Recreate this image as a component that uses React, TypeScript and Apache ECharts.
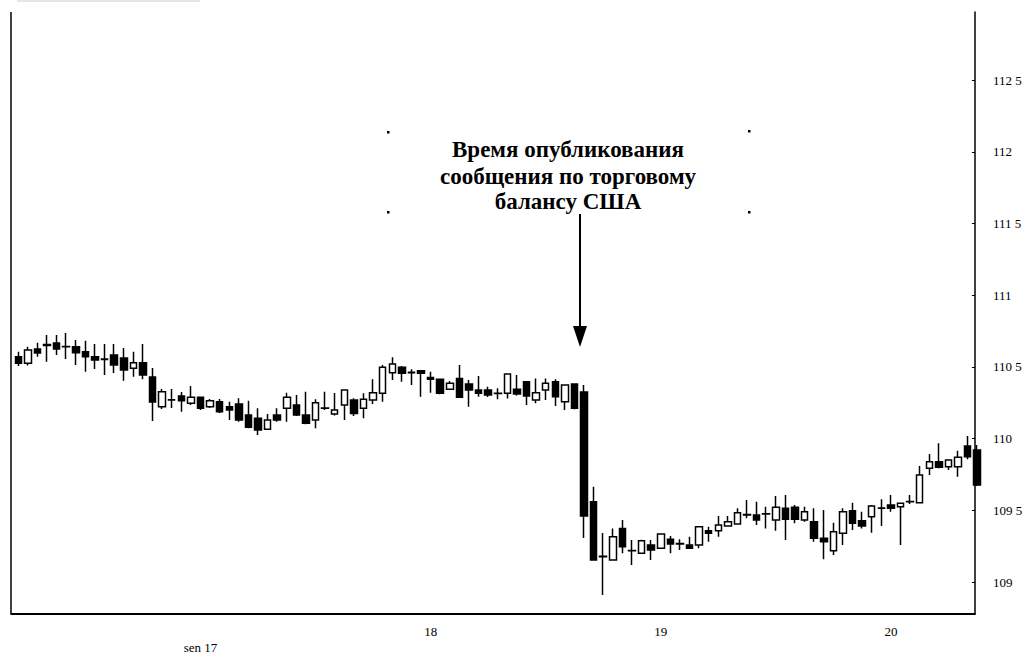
import React, { useEffect, useRef } from "react";
import * as echarts from "echarts";

// Hourly candles (open, close, low, high)
const opens = [
  110.571, 110.525, 110.625, 110.65, 110.667, 110.641, 110.641, 110.606, 110.571, 110.555,
  110.583, 110.562, 110.49, 110.529, 110.43, 110.222, 110.269, 110.297, 110.246, 110.288,
  110.222, 110.257, 110.222, 110.241, 110.165, 110.142, 110.065, 110.165, 110.211, 110.234,
  110.165, 110.13, 110.211, 110.172, 110.234, 110.269, 110.211, 110.269, 110.316, 110.46,
  110.497, 110.46, 110.474, 110.427, 110.414, 110.344, 110.42, 110.381, 110.339, 110.339,
  110.315, 110.316, 110.344, 110.397, 110.269, 110.339, 110.397, 110.257, 110.381, 110.325,
  109.56, 109.176, 109.153, 109.374, 109.218, 109.2, 109.258, 109.235, 109.298, 109.265,
  109.258, 109.258, 109.358, 109.358, 109.39, 109.404, 109.467, 109.467, 109.474, 109.432,
  109.514, 109.521, 109.432, 109.42, 109.305, 109.218, 109.34, 109.497, 109.427, 109.455,
  109.514, 109.537, 109.525, 109.56, 109.553, 109.793, 109.839, 109.804, 109.804, 109.948,
  109.92,
];
const closes = [
  110.525, 110.618, 110.597, 110.656, 110.625, 110.643, 110.599, 110.571, 110.548, 110.552,
  110.513, 110.478, 110.529, 110.444, 110.255, 110.327, 110.271, 110.264, 110.288, 110.211,
  110.264, 110.188, 110.199, 110.13, 110.079, 110.06, 110.13, 110.13, 110.288, 110.165,
  110.107, 110.25, 110.213, 110.199, 110.339, 110.176, 110.274, 110.32, 110.497, 110.52,
  110.455, 110.462, 110.455, 110.414, 110.316, 110.386, 110.288, 110.339, 110.316, 110.304,
  110.317, 110.45, 110.311, 110.297, 110.32, 110.386, 110.292, 110.374, 110.211, 109.46,
  109.153, 109.18, 109.316, 109.246, 109.22, 109.288, 109.223, 109.335, 109.265, 109.268,
  109.235, 109.386, 109.34, 109.397, 109.42, 109.483, 109.47, 109.432, 109.476, 109.521,
  109.437, 109.437, 109.49, 109.305, 109.281, 109.351, 109.49, 109.409, 109.39, 109.53,
  109.516, 109.514, 109.549, 109.562, 109.746, 109.839, 109.8, 109.851, 109.87, 109.874,
  109.676,
];
const lows = [
  110.506, 110.51, 110.571, 110.536, 110.583, 110.555, 110.513, 110.467, 110.485, 110.444,
  110.457, 110.404, 110.432, 110.414, 110.123, 110.206, 110.213, 110.188, 110.234, 110.199,
  110.213, 110.178, 110.13, 110.118, 110.072, 110.025, 110.06, 110.118, 110.118, 110.158,
  110.1, 110.072, 110.199, 110.161, 110.13, 110.158, 110.142, 110.241, 110.257, 110.409,
  110.397, 110.374, 110.292, 110.32, 110.31, 110.34, 110.285, 110.222, 110.292, 110.29,
  110.274, 110.28, 110.3, 110.234, 110.246, 110.269, 110.227, 110.199, 110.205, 109.307,
  109.15, 108.909, 109.15, 109.2, 109.119, 109.2, 109.153, 109.23, 109.2, 109.223,
  109.23, 109.235, 109.281, 109.316, 109.386, 109.4, 109.444, 109.397, 109.374, 109.358,
  109.293, 109.409, 109.42, 109.281, 109.158, 109.188, 109.258, 109.363, 109.374, 109.344,
  109.39, 109.49, 109.258, 109.544, 109.55, 109.746, 109.793, 109.781, 109.734, 109.856,
  109.67,
];
const highs = [
  110.606, 110.641, 110.669, 110.722, 110.722, 110.736, 110.688, 110.683, 110.66, 110.66,
  110.66, 110.632, 110.606, 110.66, 110.492, 110.346, 110.346, 110.325, 110.367, 110.29,
  110.276, 110.276, 110.257, 110.281, 110.264, 110.211, 110.172, 110.211, 110.32, 110.304,
  110.327, 110.274, 110.327, 110.318, 110.342, 110.281, 110.316, 110.414, 110.513, 110.567,
  110.506, 110.483, 110.476, 110.467, 110.42, 110.402, 110.513, 110.409, 110.437, 110.362,
  110.351, 110.455, 110.444, 110.4, 110.42, 110.42, 110.414, 110.376, 110.383, 110.374,
  109.665, 109.342, 109.374, 109.432, 109.293, 109.295, 109.293, 109.34, 109.321, 109.298,
  109.316, 109.39, 109.386, 109.46, 109.46, 109.514, 109.572, 109.56, 109.525, 109.6,
  109.607, 109.537, 109.525, 109.514, 109.502, 109.414, 109.514, 109.553, 109.49, 109.537,
  109.577, 109.607, 109.553, 109.607, 109.809, 109.893, 109.967, 109.851, 109.916, 110.018,
  109.955,
];

const hours = opens.map((_, i) => String(i));
const dayLabels = ["sen 17", "18", "19", "20"];
const dayLabelIndex = [19, 43, 67, 91];

const yTickValues = [109, 109.5, 110, 110.5, 111, 111.5, 112, 112.5];
const yTickLabels = ["109", "109 5", "110", "110 5", "111", "111 5", "112", "112 5"];

const noteLines = ["Время опубликования", "сообщения по торговому", "балансу США"];

const SERIF = "'Liberation Serif', 'DejaVu Serif', serif";

export default function App() {
  const ref = useRef<HTMLDivElement>(null);

  useEffect(() => {
    document.body.style.margin = "0";
    if (!ref.current) return;
    const chart = echarts.init(ref.current, null, { renderer: "svg" });

    const candleData = opens.map((o, i) => [o, closes[i], lows[i], highs[i]]);

    const noteGraphics = noteLines.map((t, i) => ({
      type: "text",
      x: 568,
      y: [149, 176, 201][i],
      style: {
        text: t,
        fill: "#000",
        font: "bold 23px " + SERIF,
        align: "center",
        textAlign: "center",
        verticalAlign: "middle",
        textVerticalAlign: "middle",
      },
    }));

    const dots = [
      [388, 132],
      [749, 131],
      [388, 212],
      [749, 212],
    ].map(([x, y]) => ({
      type: "rect",
      shape: { x: x - 1, y: y - 1, width: 2.5, height: 2.5 },
      style: { fill: "#000" },
    }));

    chart.setOption({
      animation: false,
      backgroundColor: "#fff",
      grid: {
        left: 13.5,
        right: 49,
        top: 12,
        bottom: 44,
        containLabel: false,
        outerBoundsMode: "none",
      },
      xAxis: {
        type: "category",
        data: hours,
        boundaryGap: true,
        axisLine: { show: false },
        axisTick: { show: false },
        splitLine: { show: false },
        axisLabel: {
          interval: (index: number) => dayLabelIndex.includes(index),
          formatter: (_v: string, index: number) => {
            const k = dayLabelIndex.indexOf(index);
            if (k < 0) return "";
            return k === 0 ? "{m|" + dayLabels[k] + "}" : dayLabels[k];
          },
          margin: 11,
          color: "#000",
          fontFamily: SERIF,
          fontSize: 13,
          rich: {
            m: {
              color: "#000",
              fontFamily: SERIF,
              fontSize: 13,
              padding: [16, 0, 0, 0],
            },
          },
        },
      },
      yAxis: {
        type: "value",
        position: "right",
        offset: -7,
        min: 108.777,
        max: 112.975,
        scale: true,
        axisLine: { show: true, lineStyle: { color: "#000", width: 1.5 } },
        axisTick: {
          show: true,
          inside: true,
          length: 3,
          customValues: yTickValues,
          lineStyle: { color: "#000", width: 1 },
        },
        splitLine: { show: false },
        axisLabel: {
          customValues: yTickValues,
          formatter: (v: number) => {
            const k = yTickValues.findIndex((t) => Math.abs(t - v) < 1e-6);
            return k >= 0 ? yTickLabels[k] : "";
          },
          margin: 18,
          color: "#000",
          fontFamily: SERIF,
          fontSize: 13,
        },
      },
      series: [
        {
          type: "candlestick",
          data: candleData,
          barWidth: 7,
          itemStyle: {
            color: "#fff",
            color0: "#000",
            borderColor: "#000",
            borderColor0: "#000",
            borderColorDoji: "#000",
            borderWidth: 1.5,
          },
        },
      ],
      graphic: [
        {
          type: "rect",
          shape: { x: 17, y: 0, width: 183, height: 2 },
          style: { fill: "#e6e6e6" },
        },
        {
          type: "line",
          shape: { x1: 11, y1: 12, x2: 11, y2: 614 },
          style: { stroke: "#000", lineWidth: 1.5 },
        },
        {
          type: "line",
          shape: { x1: 10.5, y1: 614, x2: 975.5, y2: 614 },
          style: { stroke: "#000", lineWidth: 2 },
        },
        ...noteGraphics,
        ...dots,
        {
          type: "line",
          shape: { x1: 580, y1: 214, x2: 580, y2: 330 },
          style: { stroke: "#000", lineWidth: 2 },
        },
        {
          type: "polygon",
          shape: {
            points: [
              [573, 326],
              [587, 326],
              [580, 347],
            ],
          },
          style: { fill: "#000" },
        },
      ],
    });

    return () => chart.dispose();
  }, []);

  return <div ref={ref} style={{ width: 1031, height: 658 }} />;
}
